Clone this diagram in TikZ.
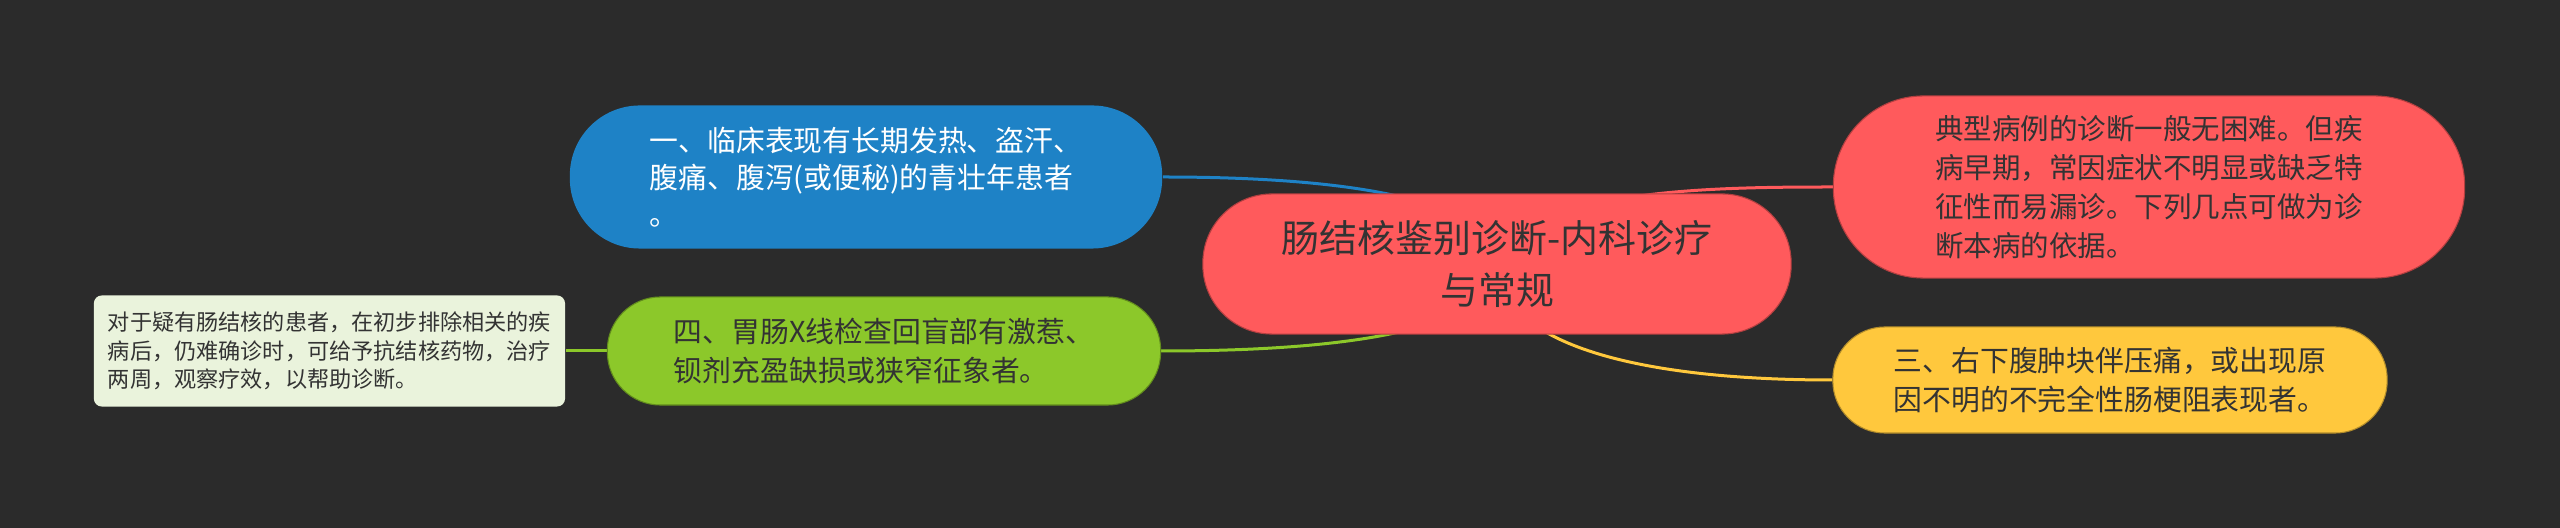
\documentclass[tikz,border=0pt]{standalone}
\usepackage{fontspec}
\newfontfamily\cjk{Noto Sans CJK SC}
\usetikzlibrary{positioning,backgrounds}
\definecolor{bgc}{HTML}{2B2B2B}
\definecolor{txtc}{HTML}{333333}
\definecolor{redc}{HTML}{FF5A5C}
\definecolor{bluec}{HTML}{1E82C6}
\definecolor{yelc}{HTML}{FFC83D}
\definecolor{grnc}{HTML}{8CC82A}
\definecolor{litc}{HTML}{EAF3DC}

\begin{document}
\begin{tikzpicture}[x=0.01cm,y=-0.01cm]
\tikzstyle{pill}=[rectangle, align=left, inner sep=0pt, text=txtc, font=\cjk\fontsize{8.2pt}{11.2pt}\selectfont]
\tikzstyle{pillr}=[pill, fill=redc, draw=redc!70!black, line width=0.3pt]
\tikzstyle{pillb}=[pill, fill=bluec, text=white, font=\cjk\fontsize{8.2pt}{10.5pt}\selectfont]
\tikzstyle{pilly}=[pill, fill=yelc, draw=yelc!70!black, line width=0.3pt]
\tikzstyle{pillg}=[pill, fill=grnc, draw=grnc!70!black, line width=0.3pt]
\tikzstyle{boxl}=[pill, fill=litc, rounded corners=0.08cm, font=\cjk\fontsize{6.3pt}{8.1pt}\selectfont]
\tikzstyle{link}=[line width=0.03cm]
\useasboundingbox (0,0) rectangle (2560,528);
% root
\node (c0) [pillr, align=center, minimum width=5.88cm, minimum height=1.40cm, rounded corners=0.69cm,
  font=\cjk\fontsize{10.8pt}{14.8pt}\selectfont] at (1497,264) {肠结核鉴别诊断-内科诊疗\\与常规};
% children
\node (n1) [pillb, minimum width=5.92cm, minimum height=1.43cm, rounded corners=0.7cm] at (866,177)
  {一、临床表现有长期发热、盗汗、\\腹痛、腹泻(或便秘)的青壮年患者\\。};
\node (n2) [pillr, minimum width=6.31cm, minimum height=1.82cm, rounded corners=0.9cm,
  font=\cjk\fontsize{8.1pt}{11.1pt}\selectfont] at (2149,187)
  {典型病例的诊断一般无困难。但疾\\病早期，常因症状不明显或缺乏特\\征性而易漏诊。下列几点可做为诊\\断本病的依据。};
\node (n3) [pilly, minimum width=5.54cm, minimum height=1.06cm, rounded corners=0.52cm] at (2110,380)
  {三、右下腹肿块伴压痛，或出现原\\因不明的不完全性肠梗阻表现者。};
\node (n4) [pillg, minimum width=5.53cm, minimum height=1.08cm, rounded corners=0.53cm] at (884,351)
  {四、胃肠X线检查回盲部有激惹、\\钡剂充盈缺损或狭窄征象者。};
\node (n41) [boxl, minimum width=4.71cm, minimum height=1.11cm, left=0.41cm of n4]
  {对于疑有肠结核的患者，在初步排除相关的疾\\病后，仍难确诊时，可给予抗结核药物，治疗\\两周，观察疗效，以帮助诊断。};
\begin{scope}[on background layer]
\fill[bgc] (0,0) rectangle (2560,528);
\draw[link, bluec] (n1.east) .. controls +(288,0) and +(0,-34) .. (c0.center);
\draw[link, redc] (c0.center) .. controls +(33,-74) and +(-133,0) .. (n2.west);
\draw[link, yelc] (c0.center) .. controls +(3,81) and +(-193,0) .. (n3.west);
\draw[link, grnc] (n4.east) .. controls +(290,0) and +(0,36) .. (c0.center);
\draw[link, grnc] (n41.east) -- (n4.west);
\end{scope}
\end{tikzpicture}
\end{document}
